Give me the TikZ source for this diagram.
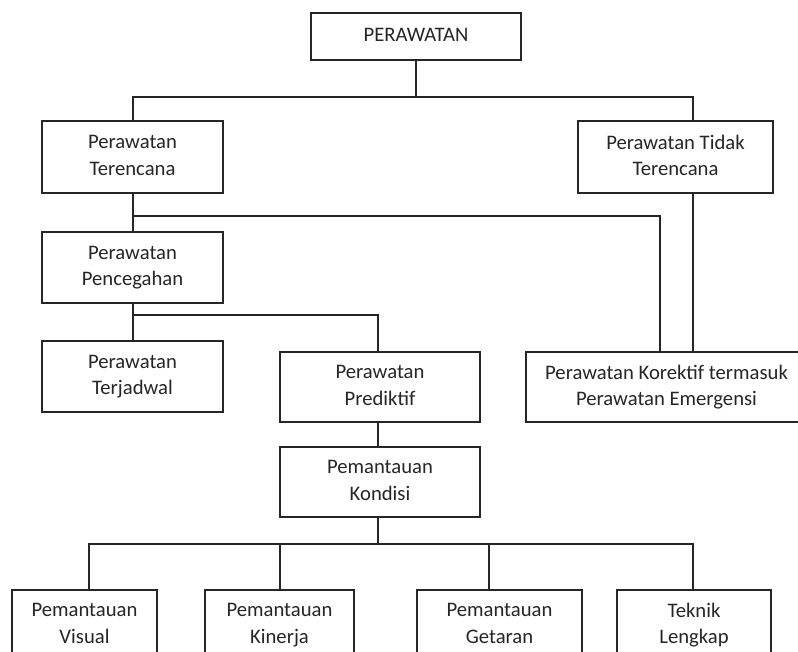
\documentclass[tikz,border=0pt]{standalone}
\usepackage{fontspec}
\setmainfont{Carlito}
\newcommand{\twol}[2]{\vphantom{Pg}#1\\#2\vphantom{Pg}}
\begin{document}
\begin{tikzpicture}[x=0.75pt,y=-0.75pt,
  box/.style={draw=black!85,line width=1pt,align=center,inner sep=0pt,
    font=\fontsize{15.5}{19.8}\selectfont,text=black!85},
  conn/.style={draw=black!85,line width=1pt}]
\clip (0,0) rectangle (798,651);
\fill[white] (0,0) rectangle (798,651);
% nodes
\node[box,minimum width=157.5pt,minimum height=35.25pt] (root) at (416,36.5) {\vphantom{Pg}PERAWATAN};
\node[box,minimum width=135.75pt,minimum height=54pt] (ter) at (132.5,157) {\twol{Perawatan}{Terencana}};
\node[box,minimum width=146.25pt,minimum height=54pt] (tidak) at (675.5,157) {\twol{Perawatan Tidak}{Terencana}};
\node[box,minimum width=135.75pt,minimum height=53.25pt] (cegah) at (132.5,267.5) {\twol{Perawatan}{Pencegahan}};
\node[box,minimum width=135.75pt,minimum height=53.25pt] (jadwal) at (132.5,376.5) {\twol{Perawatan}{Terjadwal}};
\node[box,minimum width=150pt,minimum height=52.5pt] (pred) at (380,387) {\twol{Perawatan}{Prediktif}};
\node[box,minimum width=150pt,minimum height=52.5pt] (kond) at (380,482) {\twol{Pemantauan}{Kondisi}};
\node[box,minimum width=210.75pt,minimum height=52.5pt] (kor) at (666.5,387) {\twol{Perawatan Korektif termasuk}{Perawatan Emergensi}};
\node[box,minimum width=108.75pt,minimum height=52.5pt] (vis) at (84.5,625) {\twol{Pemantauan}{Visual}};
\node[box,minimum width=111.75pt,minimum height=52.5pt] (kin) at (279.5,625) {\twol{Pemantauan}{Kinerja}};
\node[box,minimum width=123.75pt,minimum height=52.5pt] (get) at (499.5,625) {\twol{Pemantauan}{Getaran}};
\node[box,minimum width=115.5pt,minimum height=52.5pt] (tek) at (694,625) {\twol{Teknik}{Lengkap}};
% junction coordinates
\coordinate (j1) at (133,97);
\coordinate (j2) at (693,97);
\coordinate (j3) at (660,216);
\coordinate (j4) at (378,315);
\coordinate (j5) at (378,544);
\coordinate (l1) at (89,544);
\coordinate (l2) at (280,544);
\coordinate (l3) at (489,544);
\coordinate (l4) at (693,544);
% connectors
\draw[conn] (root.south) -- (root.south |- j1);
\draw[conn] (j1 |- ter.north) -- (j1) -- (j2) -- (j2 |- tidak.north);
\draw[conn] (j1 |- ter.south) -- (j1 |- cegah.north);
\draw[conn] (j1 |- j3) -- (j3) -- (j3 |- kor.north);
\draw[conn] (j2 |- tidak.south) -- (j2 |- kor.north);
\draw[conn] (j1 |- cegah.south) -- (j1 |- jadwal.north);
\draw[conn] (j1 |- j4) -- (j4) -- (j4 |- pred.north);
\draw[conn] (j4 |- pred.south) -- (j4 |- kond.north);
\draw[conn] (j5 |- kond.south) -- (j5);
\draw[conn] (l1 |- vis.north) -- (l1) -- (l4) -- (l4 |- tek.north);
\draw[conn] (l2) -- (l2 |- kin.north);
\draw[conn] (l3) -- (l3 |- get.north);
\end{tikzpicture}
\end{document}
